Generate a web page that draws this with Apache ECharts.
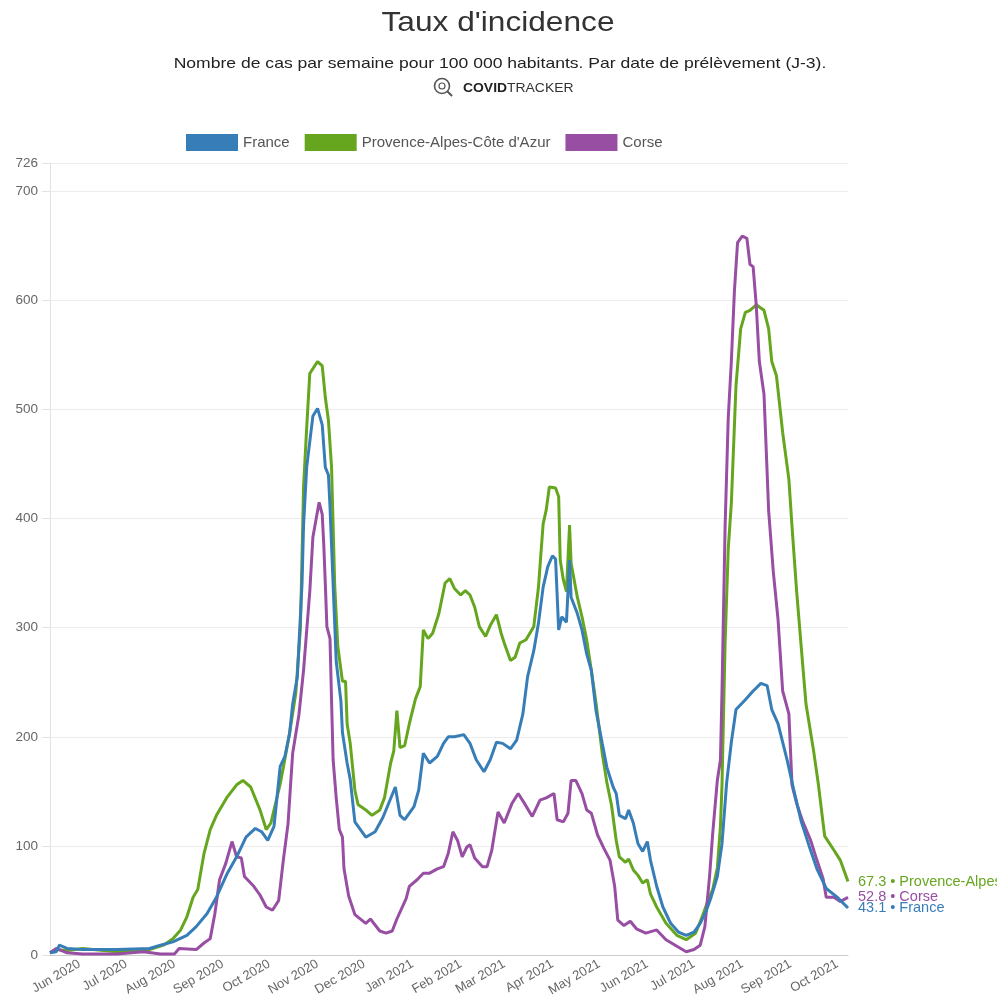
<!DOCTYPE html>
<html>
<head>
<meta charset="utf-8">
<script src="https://cdn.jsdelivr.net/npm/echarts@6/dist/echarts.min.js"></script>
<style>html,body{margin:0;padding:0;background:#fff}#chart{width:997px;height:1004px}</style>
</head>
<body>
<div id="chart"></div>
<script>
// ---- data ----
const startDate = '2020-05-13';
const endDate = '2021-10-08';
const monthNames = ['Jan','Feb','Mar','Apr','May','Jun','Jul','Aug','Sep','Oct','Nov','Dec'];
const yTicks = [0, 100, 200, 300, 400, 500, 600, 700, 726];
const seriesNames = ['France', "Provence-Alpes-Côte d'Azur", 'Corse'];
const titleText = "Taux d'incidence";
const subtitleText = 'Nombre de cas par semaine pour 100 000 habitants. Par date de prélèvement (J-3).';

const france = [
['2020-05-13',2],['2020-05-17',3],['2020-05-19',9],['2020-05-24',6],['2020-06-03',5],['2020-06-25',5],['2020-07-16',6],['2020-07-23',9],['2020-07-31',12],['2020-08-09',18],['2020-08-15',26],['2020-08-22',38],['2020-08-28',53],['2020-09-04',75],['2020-09-10',90],['2020-09-16',108],['2020-09-22',116],['2020-09-26',113],['2020-09-30',105],['2020-10-04',118],['2020-10-08',173],['2020-10-11',182],['2020-10-14',203],['2020-10-16',230],['2020-10-19',255],['2020-10-22',340],['2020-10-23',394],['2020-10-25',447],['2020-10-29',494],['2020-11-01',501],['2020-11-04',486],['2020-11-06',447],['2020-11-08',440],['2020-11-09',411],['2020-11-11',340],['2020-11-13',269],['2020-11-16',233],['2020-11-17',204],['2020-11-20',176],['2020-11-22',161],['2020-11-25',122],['2020-12-02',108],['2020-12-08',113],['2020-12-13',126],['2020-12-21',154],['2020-12-24',128],['2020-12-27',124],['2021-01-02',136],['2021-01-05',151],['2021-01-08',185],['2021-01-12',176],['2021-01-17',182],['2021-01-21',194],['2021-01-24',200],['2021-01-28',200],['2021-02-03',202],['2021-02-07',194],['2021-02-11',179],['2021-02-16',168],['2021-02-20',179],['2021-02-24',195],['2021-02-28',194],['2021-03-05',189],['2021-03-09',197],['2021-03-13',221],['2021-03-16',255],['2021-03-20',279],['2021-03-23',304],['2021-03-26',337],['2021-03-29',356],['2021-04-01',366],['2021-04-03',363],['2021-04-05',298],['2021-04-07',310],['2021-04-10',305],['2021-04-12',362],['2021-04-13',328],['2021-04-17',313],['2021-04-20',298],['2021-04-23',276],['2021-04-26',261],['2021-04-29',224],['2021-05-03',194],['2021-05-06',172],['2021-05-08',163],['2021-05-10',154],['2021-05-12',148],['2021-05-14',128],['2021-05-18',125],['2021-05-20',133],['2021-05-23',121],['2021-05-26',102],['2021-05-29',95],['2021-06-01',104],['2021-06-03',87],['2021-06-07',63],['2021-06-11',44],['2021-06-16',29],['2021-06-21',21],['2021-06-26',18],['2021-07-01',21],['2021-07-05',29],['2021-07-09',41],['2021-07-12',53],['2021-07-16',72],['2021-07-18',92],['2021-07-19',102],['2021-07-22',158],['2021-07-25',195],['2021-07-28',225],['2021-08-03',234],['2021-08-08',242],['2021-08-13',249],['2021-08-17',247],['2021-08-20',225],['2021-08-24',212],['2021-08-30',178],['2021-09-03',152],['2021-09-08',122],['2021-09-13',100],['2021-09-18',79],['2021-09-24',61],['2021-10-01',53],['2021-10-08',43.1]
];

const paca = [
['2020-05-13',2],['2020-05-17',5],['2020-05-24',4],['2020-06-03',6],['2020-06-25',3],['2020-07-16',5],['2020-07-25',9],['2020-07-31',15],['2020-08-05',23],['2020-08-09',35],['2020-08-13',53],['2020-08-16',60],['2020-08-20',93],['2020-08-24',115],['2020-08-28',128],['2020-09-04',145],['2020-09-10',156],['2020-09-14',160],['2020-09-19',154],['2020-09-25',133],['2020-09-29',115],['2020-10-02',121],['2020-10-08',157],['2020-10-10',172],['2020-10-14',203],['2020-10-18',240],['2020-10-21',300],['2020-10-23',429],['2020-10-25',483],['2020-10-27',533],['2020-11-01',544],['2020-11-04',540],['2020-11-06',511],['2020-11-08',490],['2020-11-10',447],['2020-11-12',340],['2020-11-14',283],['2020-11-17',251],['2020-11-19',251],['2020-11-20',212],['2020-11-22',194],['2020-11-25',151],['2020-11-27',138],['2020-12-02',133],['2020-12-06',128],['2020-12-11',133],['2020-12-14',144],['2020-12-18',176],['2020-12-20',187],['2020-12-22',224],['2020-12-24',190],['2020-12-27',192],['2020-12-30',212],['2021-01-03',235],['2021-01-06',246],['2021-01-08',298],['2021-01-11',290],['2021-01-14',295],['2021-01-18',313],['2021-01-22',341],['2021-01-25',345],['2021-01-28',336],['2021-02-01',330],['2021-02-04',334],['2021-02-07',330],['2021-02-10',319],['2021-02-13',301],['2021-02-17',292],['2021-02-20',302],['2021-02-24',312],['2021-02-27',295],['2021-03-01',286],['2021-03-05',270],['2021-03-08',273],['2021-03-11',286],['2021-03-15',289],['2021-03-20',301],['2021-03-23',337],['2021-03-26',395],['2021-03-28',408],['2021-03-30',429],['2021-04-03',428],['2021-04-05',420],['2021-04-06',362],['2021-04-08',344],['2021-04-10',333],['2021-04-12',394],['2021-04-13',359],['2021-04-17',328],['2021-04-20',310],['2021-04-23',289],['2021-04-26',261],['2021-04-29',231],['2021-05-03',185],['2021-05-06',158],['2021-05-09',137],['2021-05-12',105],['2021-05-14',90],['2021-05-18',85],['2021-05-20',88],['2021-05-23',78],['2021-05-26',73],['2021-05-29',66],['2021-06-01',69],['2021-06-03',56],['2021-06-07',44],['2021-06-13',29],['2021-06-20',18],['2021-06-26',14],['2021-07-02',20],['2021-07-06',34],['2021-07-10',50],['2021-07-13',60],['2021-07-16',80],['2021-07-18',118],['2021-07-19',156],['2021-07-21',286],['2021-07-23',372],['2021-07-25',414],['2021-07-28',522],['2021-07-31',574],['2021-08-03',589],['2021-08-06',591],['2021-08-10',596],['2021-08-15',591],['2021-08-18',574],['2021-08-20',544],['2021-08-23',531],['2021-08-27',479],['2021-08-31',436],['2021-09-02',393],['2021-09-05',333],['2021-09-09',264],['2021-09-11',230],['2021-09-16',186],['2021-09-19',156],['2021-09-23',109],['2021-09-29',96],['2021-10-03',87],['2021-10-08',67.3]
];

const corse = [
['2020-05-13',2],['2020-05-17',6],['2020-05-24',2],['2020-06-03',1],['2020-06-25',1],['2020-07-12',3],['2020-07-23',1],['2020-08-01',1],['2020-08-04',6],['2020-08-15',5],['2020-08-20',11],['2020-08-24',15],['2020-08-27',38],['2020-08-30',69],['2020-09-03',84],['2020-09-07',104],['2020-09-10',90],['2020-09-13',89],['2020-09-15',72],['2020-09-21',63],['2020-09-25',55],['2020-09-29',44],['2020-10-03',41],['2020-10-07',50],['2020-10-10',87],['2020-10-13',120],['2020-10-16',185],['2020-10-20',220],['2020-10-23',261],['2020-10-27',333],['2020-10-29',383],['2020-11-02',415],['2020-11-04',404],['2020-11-05',376],['2020-11-06',340],['2020-11-07',301],['2020-11-09',290],['2020-11-10',233],['2020-11-11',179],['2020-11-13',144],['2020-11-15',115],['2020-11-17',108],['2020-11-18',79],['2020-11-21',54],['2020-11-25',37],['2020-12-02',29],['2020-12-05',33],['2020-12-11',22],['2020-12-15',20],['2020-12-19',22],['2020-12-22',33],['2020-12-28',52],['2020-12-30',63],['2021-01-04',69],['2021-01-08',75],['2021-01-12',75],['2021-01-17',79],['2021-01-21',81],['2021-01-24',93],['2021-01-27',113],['2021-01-30',105],['2021-02-02',90],['2021-02-05',99],['2021-02-07',101],['2021-02-10',89],['2021-02-15',81],['2021-02-18',81],['2021-02-21',96],['2021-02-25',131],['2021-03-01',121],['2021-03-06',139],['2021-03-10',148],['2021-03-14',139],['2021-03-19',127],['2021-03-24',142],['2021-03-28',144],['2021-04-02',148],['2021-04-04',124],['2021-04-08',122],['2021-04-11',130],['2021-04-13',160],['2021-04-16',160],['2021-04-20',148],['2021-04-23',133],['2021-04-26',130],['2021-04-30',110],['2021-05-04',98],['2021-05-08',87],['2021-05-11',63],['2021-05-13',32],['2021-05-17',27],['2021-05-21',31],['2021-05-25',24],['2021-05-31',20],['2021-06-07',23],['2021-06-13',14],['2021-06-20',8],['2021-06-26',3],['2021-07-01',5],['2021-07-05',9],['2021-07-08',26],['2021-07-11',72],['2021-07-13',111],['2021-07-16',160],['2021-07-18',179],['2021-07-19',242],['2021-07-21',393],['2021-07-23',492],['2021-07-25',544],['2021-07-27',609],['2021-07-29',653],['2021-08-01',659],['2021-08-04',657],['2021-08-06',633],['2021-08-08',631],['2021-08-10',596],['2021-08-12',544],['2021-08-15',514],['2021-08-18',407],['2021-08-21',351],['2021-08-24',308],['2021-08-27',242],['2021-08-31',221],['2021-09-02',156],['2021-09-05',139],['2021-09-09',122],['2021-09-14',105],['2021-09-18',87],['2021-09-22',70],['2021-09-24',53],['2021-09-29',53],['2021-10-03',49],['2021-10-08',52.8]
];

const colors = ['#377eb8', '#66a61e', '#984ea3'];

// ---- daily categories for the x axis ----
const days = [];
for (let t = Date.parse(startDate + 'T00:00:00Z'); t <= Date.parse(endDate + 'T00:00:00Z'); t += 86400000) {
  days.push(new Date(t).toISOString().slice(0, 10));
}

const chart = echarts.init(document.getElementById('chart'), null, {renderer: 'canvas'});
const FONT = '"Liberation Sans", Arial, Helvetica, sans-serif';

function makeSeries(name, data, color, z) {
  return {
    name: name,
    type: 'line',
    data: data,
    showSymbol: false,
    symbol: 'none',
    z: z,
    lineStyle: {width: 3, color: color},
    itemStyle: {color: color},
    emphasis: {disabled: true},
    endLabel: {
      show: true,
      distance: 10,
      color: color,
      fontSize: 14.5,
      fontFamily: FONT,
      formatter: function (p) { return p.value[1] + ' \u2022 ' + p.seriesName; }
    }
  };
}

chart.setOption({
  animation: false,
  textStyle: {fontFamily: FONT},
  graphic: [
    {type: 'text', x: 498, y: 23, scaleX: 1.13,
     style: {text: titleText, textAlign: 'center', textVerticalAlign: 'middle',
             fontSize: 28, fontFamily: FONT, fill: '#333'}},
    {type: 'text', x: 500, y: 64, scaleX: 1.17,
     style: {text: subtitleText, textAlign: 'center', textVerticalAlign: 'middle',
             fontSize: 15, fontFamily: FONT, fill: '#222'}},
    {type: 'circle', shape: {cx: 442, cy: 86, r: 7.5}, style: {fill: 'none', stroke: '#555', lineWidth: 1.6}},
    {type: 'circle', shape: {cx: 442, cy: 86, r: 3}, style: {fill: 'none', stroke: '#555', lineWidth: 1.2}},
    {type: 'line', shape: {x1: 447.5, y1: 91.5, x2: 452, y2: 96}, style: {stroke: '#555', lineWidth: 2}},
    {type: 'text', x: 463, y: 88, scaleX: 1.07,
     style: {text: '{b|COVID}{n|TRACKER}', textVerticalAlign: 'middle', rich: {
       b: {fontSize: 13, fontWeight: 'bold', fill: '#222', fontFamily: FONT},
       n: {fontSize: 13, fontWeight: 'normal', fill: '#333', fontFamily: FONT}}}}
  ],
  legend: {
    left: 181, top: 129,
    itemWidth: 52, itemHeight: 17, itemGap: 15,
    icon: 'rect',
    textStyle: {fontSize: 15, color: '#555', fontFamily: FONT},
    data: seriesNames
  },
  color: colors,
  grid: {left: 50, right: 149, top: 163, bottom: 49, containLabel: false},
  xAxis: {
    type: 'category',
    data: days,
    boundaryGap: false,
    axisLine: {lineStyle: {color: '#cccccc', width: 1}},
    axisTick: {show: false},
    splitLine: {show: false},
    axisLabel: {
      interval: function (i, v) { return v.slice(8) === '01'; },
      rotate: 30,
      margin: 8,
      color: '#666',
      fontSize: 13,
      fontFamily: FONT,
      formatter: function (v) { return monthNames[+v.slice(5, 7) - 1] + ' ' + v.slice(0, 4); }
    }
  },
  yAxis: {
    type: 'value',
    min: yTicks[0],
    max: yTicks[yTicks.length - 1],
    interval: 100,
    axisLine: {show: true, lineStyle: {color: '#e3e3e3'}},
    axisTick: {show: true, length: 8, lineStyle: {color: '#e3e3e3'}},
    splitLine: {lineStyle: {color: '#ececec', width: 1}},
    axisLabel: {color: '#666', fontSize: 13.5, margin: 12, fontFamily: FONT}
  },
  series: [
    makeSeries(seriesNames[1], paca, colors[1], 2),
    makeSeries(seriesNames[2], corse, colors[2], 3),
    makeSeries(seriesNames[0], france, colors[0], 4)
  ]
});
</script>
</body>
</html>
